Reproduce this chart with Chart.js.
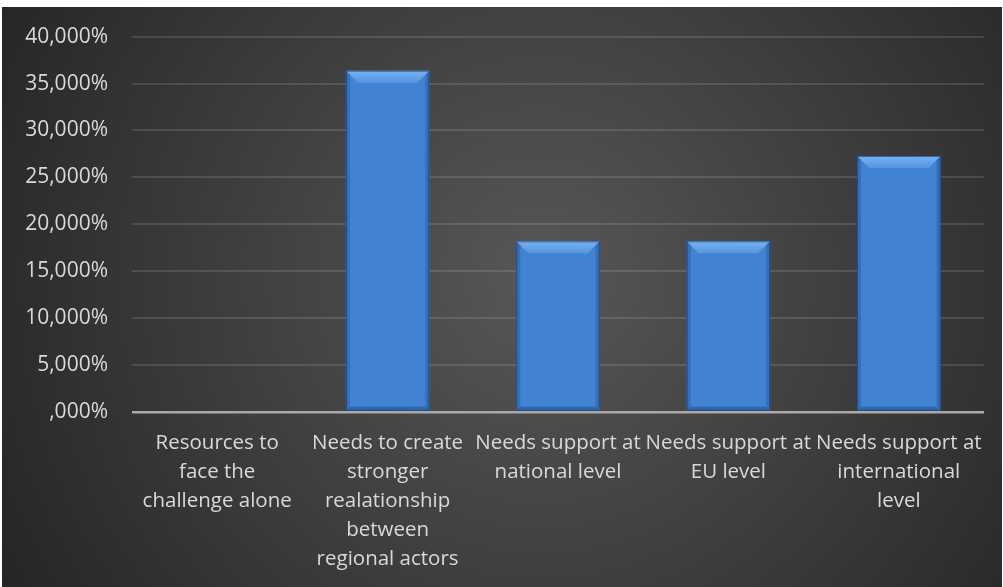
<!DOCTYPE html>
<html>
<head>
<meta charset="utf-8">
<script src="https://cdn.jsdelivr.net/npm/chart.js@4"></script>
<style>
    html, body { margin: 0; padding: 0; background: #ffffff; }
    #wrap { width: 1003px; height: 587px; position: relative; }
</style>
</head>
<body>
<div id="wrap"><canvas id="chart"></canvas></div>
<script>
const categories = [
    ['Resources to', 'face the', 'challenge alone'],
    ['Needs to create', 'stronger', 'realationship', 'between', 'regional actors'],
    ['Needs support at', 'national level'],
    ['Needs support at', 'EU level'],
    ['Needs support at', 'international', 'level']
];
const shares = [0, 36.364, 18.182, 18.182, 27.273];
const yTickLabels = [',000%', '5,000%', '10,000%', '15,000%', '20,000%', '25,000%', '30,000%', '35,000%', '40,000%'];

const textColor = '#d9d9d9';
const fontFamily = "'Open Sans', sans-serif";

// dark radial background, leaving the thin white strip at top/left like the source
const backgroundPlugin = {
    id: 'bg',
    beforeDraw: chart => {
        const ctx = chart.ctx;
        ctx.save();
        const g = ctx.createRadialGradient(540, 280, 0, 540, 280, 620);
        g.addColorStop(0, '#575757');
        g.addColorStop(1, '#252525');
        ctx.fillStyle = g;
        ctx.fillRect(2, 7, chart.width - 3, chart.height - 7);
        ctx.restore();
    }
};

// bevelled look on every bar
const bevelPlugin = {
    id: 'bevel',
    afterDatasetsDraw: chart => {
        const ctx = chart.ctx;
        const meta = chart.getDatasetMeta(0);
        ctx.save();
        meta.data.forEach(bar => {
            const left = bar.x - bar.width / 2;
            const right = bar.x + bar.width / 2;
            const top = bar.y;
            const bottom = bar.base;
            const h = bottom - top;
            if (h < 2) return;
            const b = Math.min(12, h / 3);
            const s = 4;

            // top face
            const tg = ctx.createLinearGradient(0, top, 0, top + b);
            tg.addColorStop(0, '#7ab2f0');
            tg.addColorStop(1, '#5594df');
            ctx.fillStyle = tg;
            ctx.beginPath();
            ctx.moveTo(left, top);
            ctx.lineTo(right, top);
            ctx.lineTo(right - b, top + b);
            ctx.lineTo(left + b, top + b);
            ctx.closePath();
            ctx.fill();

            // left / right edges
            ctx.fillStyle = '#356fba';
            ctx.beginPath();
            ctx.moveTo(left, top);
            ctx.lineTo(left + s, top + s);
            ctx.lineTo(left + s, bottom - s);
            ctx.lineTo(left, bottom);
            ctx.closePath();
            ctx.fill();
            ctx.beginPath();
            ctx.moveTo(right, top);
            ctx.lineTo(right - s, top + s);
            ctx.lineTo(right - s, bottom - s);
            ctx.lineTo(right, bottom);
            ctx.closePath();
            ctx.fill();

            // bottom edge
            ctx.fillStyle = '#2f66ad';
            ctx.beginPath();
            ctx.moveTo(left, bottom);
            ctx.lineTo(left + s, bottom - s);
            ctx.lineTo(right - s, bottom - s);
            ctx.lineTo(right, bottom);
            ctx.closePath();
            ctx.fill();

            ctx.strokeStyle = 'rgba(20, 50, 100, 0.6)';
            ctx.lineWidth = 1;
            ctx.strokeRect(left + 0.5, top + 0.5, bar.width - 1, h - 1);
        });
        ctx.restore();
    }
};

new Chart(document.getElementById('chart'), {
    type: 'bar',
    data: {
        labels: categories,
        datasets: [{
            data: shares,
            backgroundColor: '#4282d2',
            borderWidth: 0,
            categoryPercentage: 1,
            barPercentage: 0.49
        }]
    },
    options: {
        responsive: true,
        maintainAspectRatio: false,
        animation: false,
        layout: {
            padding: { top: 36, right: 19, left: 0, bottom: 0 }
        },
        plugins: {
            legend: { display: false },
            tooltip: { enabled: false }
        },
        scales: {
            x: {
                grid: { display: false, drawTicks: false },
                border: { display: false },
                afterFit: scale => { scale.height = 175; },
                ticks: {
                    color: textColor,
                    font: { family: fontFamily, size: 20.5, lineHeight: 1.41 },
                    padding: 17,
                    maxRotation: 0,
                    autoSkip: false
                }
            },
            y: {
                min: 0,
                max: 40,
                afterFit: scale => { scale.width = 132; },
                border: { display: false },
                grid: {
                    drawTicks: false,
                    color: ctx => ctx.tick && ctx.tick.value === 0 ? '#a9a9a9' : 'rgba(255, 255, 255, 0.12)',
                    lineWidth: ctx => ctx.tick && ctx.tick.value === 0 ? 2.5 : 2
                },
                ticks: {
                    stepSize: 5,
                    color: textColor,
                    padding: 24,
                    font: { family: fontFamily, size: 21 },
                    callback: (value, index) => yTickLabels[index]
                }
            }
        }
    },
    plugins: [backgroundPlugin, bevelPlugin]
});
</script>
</body>
</html>
